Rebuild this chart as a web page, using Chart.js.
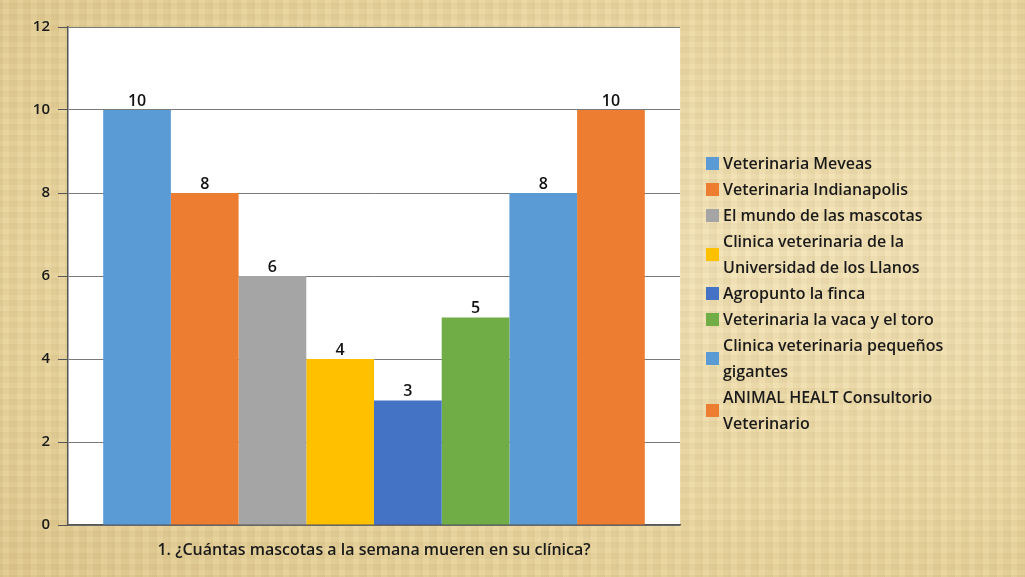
<!DOCTYPE html>
<html>
<head>
<meta charset="utf-8">
<script src="https://cdn.jsdelivr.net/npm/chart.js@4/dist/chart.umd.min.js"></script>
<style>
  html, body { margin: 0; padding: 0; }
  body {
    width: 1025px; height: 577px; overflow: hidden; position: relative;
    background:
      repeating-linear-gradient(90deg, rgba(150,120,60,.07) 0 3px, rgba(255,240,200,.06) 3px 9px, rgba(140,110,50,.05) 9px 14px),
      repeating-linear-gradient(0deg, rgba(150,120,60,.06) 0 2px, rgba(255,240,200,.05) 2px 7px, rgba(140,110,50,.04) 7px 11px),
      radial-gradient(ellipse at 75% 45%, #f3e4ba 0%, #ebd8a4 55%, #dfc88e 100%);
    font-family: "Open Sans", "DejaVu Sans", sans-serif;
  }
  #wrap { position: absolute; left: 0; top: 0; width: 1025px; height: 577px; }
  #legend { position: absolute; left: 706px; top: 150px; width: 320px; }
  .item { display: flex; align-items: center; font-size: 16px; font-weight: 600; line-height: 26px; color: #1a1a1a; }
  .sw { width: 13px; height: 13px; flex: none; margin-right: 4px; }
</style>
</head>
<body>
<div id="wrap"><canvas id="chart" width="1025" height="577"></canvas></div>
<div id="legend"></div>
<script>
// categories / series / values
const categories = ['1. ¿Cuántas mascotas a la semana mueren en su clínica?'];
const seriesNames = [
  'Veterinaria Meveas',
  'Veterinaria Indianapolis',
  'El mundo de las mascotas',
  ['Clinica veterinaria de la', 'Universidad de los Llanos'],
  'Agropunto la finca',
  'Veterinaria la vaca y el toro',
  ['Clinica veterinaria pequeños', 'gigantes'],
  ['ANIMAL HEALT Consultorio', 'Veterinario']
];
const seriesValues = [10, 8, 6, 4, 3, 5, 8, 10];
const seriesColors = ['#5b9bd5', '#ed7d31', '#a5a5a5', '#ffc000', '#4472c4', '#70ad47', '#5b9bd5', '#ed7d31'];
const yTicks = [0, 2, 4, 6, 8, 10, 12];

const plotBg = {
  id: 'plotBg',
  beforeDraw(chart) {
    const { ctx, chartArea: a } = chart;
    ctx.save();
    ctx.fillStyle = '#ffffff';
    ctx.fillRect(a.left, a.top, a.right - a.left, a.bottom - a.top);
    ctx.restore();
  }
};

const barLabels = {
  id: 'barLabels',
  afterDatasetsDraw(chart) {
    const { ctx } = chart;
    ctx.save();
    ctx.font = '600 16px "Open Sans", sans-serif';
    ctx.fillStyle = '#111';
    ctx.textAlign = 'center'; ctx.textBaseline = 'bottom';
    chart.data.datasets.forEach((ds, i) => {
      chart.getDatasetMeta(i).data.forEach((bar, j) => {
        ctx.fillText(String(ds.data[j]), bar.x, bar.y - 1);
      });
    });
    ctx.restore();
  }
};

new Chart(document.getElementById('chart'), {
  type: 'bar',
  data: {
    labels: categories,
    datasets: seriesNames.map((n, i) => ({
      label: Array.isArray(n) ? n.join(' ') : n,
      data: [seriesValues[i]],
      backgroundColor: seriesColors[i],
      borderWidth: 0,
      barPercentage: 1,
      categoryPercentage: 0.885
    }))
  },
  options: {
    responsive: false,
    animation: false,
    layout: { padding: { left: 0, right: 345, top: 27, bottom: 0 } },
    plugins: { legend: { display: false }, tooltip: { enabled: false } },
    scales: {
      x: {
        grid: { display: false },
        border: { display: true, color: '#555', width: 1.5 },
        ticks: { color: '#1a1a1a', font: { size: 16, weight: '600', family: '"Open Sans", sans-serif' }, padding: 8 },
        afterFit(s) { s.height = 52; }
      },
      y: {
        min: 0, max: 12,
        afterBuildTicks(s) { s.ticks = yTicks.map(v => ({ value: v })); },
        grid: { color: '#7a7a7a', lineWidth: 1, tickLength: 10, tickColor: '#555' },
        border: { display: true, color: '#555', width: 1.5 },
        ticks: { color: '#1a1a1a', font: { size: 15, weight: '600', family: '"Open Sans", sans-serif' }, padding: 8 },
        afterFit(s) { s.width = 68; }
      }
    }
  },
  plugins: [plotBg, barLabels]
});

// legend
const leg = document.getElementById('legend');
seriesNames.forEach((n, i) => {
  const d = document.createElement('div');
  d.className = 'item';
  const sw = document.createElement('span');
  sw.className = 'sw'; sw.style.background = seriesColors[i];
  const t = document.createElement('span');
  t.innerHTML = (Array.isArray(n) ? n : [n]).join('<br>');
  d.appendChild(sw); d.appendChild(t);
  leg.appendChild(d);
});
</script>
</body>
</html>
